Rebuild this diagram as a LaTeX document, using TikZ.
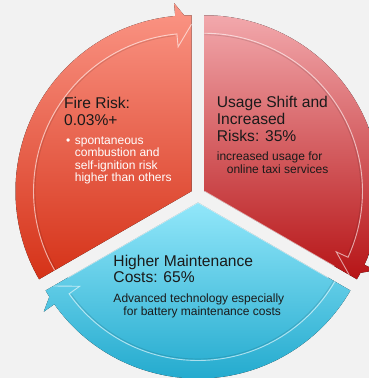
\documentclass[tikz,border=0pt]{standalone}
\usepackage{fontspec}
\setmainfont{Liberation Sans}
\definecolor{bg}{RGB}{242,242,242}
\definecolor{firetop}{RGB}{251,150,134}
\definecolor{firebot}{RGB}{213,50,24}
\definecolor{usagetop}{RGB}{242,168,172}
\definecolor{usagebot}{RGB}{182,20,22}
\definecolor{costtop}{RGB}{146,231,250}
\definecolor{costbot}{RGB}{20,162,200}
\definecolor{ink}{RGB}{26,26,26}
\tikzstyle{title} = [anchor=base west, inner sep=0pt, align=left, text=ink, font=\fontsize{15.6}{16.7}\selectfont]
\tikzstyle{body} = [anchor=base west, inner sep=0pt, align=left, text=ink, font=\fontsize{12}{12.5}\selectfont]
\tikzstyle{rim} = [draw=white, draw opacity=0.6, line width=0.9pt]
\tikzstyle{shadow} = [draw=black, draw opacity=0.12, line width=0.8pt]

\begin{document}
\begin{tikzpicture}[x=1pt, y=1pt]
  \path[use as bounding box, fill=bg] (-198,-183) rectangle (171,195);
  \clip (-198,-183) rectangle (171,195);

  % left segment, arrow points up
  \begin{scope}[shift={(150:7.5)}]
    \fill[top color=firetop, bottom color=firebot]
      (0,0) -- (90:176) arc (90:210:176) -- cycle
      (95.3:176) arc (95.3:210:176) -- (210:158) arc (210:95.3:158)
      -- (95.3:145) -- (90:167) -- (95.3:189) -- cycle;
    \draw[shadow] (210:156.5) arc (210:96:156.5);
    \draw[rim] (210:158) arc (210:95.3:158) -- (95.3:145) -- (90:167);
  \end{scope}

  % right segment, arrow points down
  \begin{scope}[shift={(30:7.5)}]
    \fill[top color=usagetop, bottom color=usagebot]
      (0,0) -- (-30:176) arc (-30:90:176) -- cycle
      (-24.7:176) arc (-24.7:90:176) -- (90:158) arc (90:-24.7:158)
      -- (-24.7:145) -- (-30:167) -- (-24.7:189) -- cycle;
    \draw[rim] (0,0) -- (-30:150);
    \draw[shadow] (90:156.5) arc (90:-24:156.5);
    \draw[rim] (90:158) arc (90:-24.7:158) -- (-24.7:145) -- (-30:167);
  \end{scope}

  % bottom segment, arrow points left
  \begin{scope}[shift={(270:7.5)}]
    \fill[top color=costtop, bottom color=costbot]
      (0,0) -- (210:176) arc (210:330:176) -- cycle
      (215.3:176) arc (215.3:330:176) -- (330:158) arc (330:215.3:158)
      -- (215.3:145) -- (210:167) -- (215.3:189) -- cycle;
    \draw[rim] (210:150) -- (0,0) -- (330:150);
    \draw[shadow] (330:156.5) arc (330:216:156.5);
    \draw[rim] (330:158) arc (330:215.3:158) -- (215.3:145) -- (210:167);
  \end{scope}

  % base of a node is its last line
  \node (fire)[title] at (-134,70) {Fire Risk:\\0.03\%+};
  \node (firetext)[body, text=white] at (-123.3,13.3)
    {\llap{\textbullet\hspace{4.5pt}}spontaneous\\combustion and\\self-ignition risk\\higher than others};
  \node (usage)[title] at (18.7,53.8) {Usage Shift and\\Increased\\Risks: 35\%};
  \node (usagetext)[body] at (18.7,21.7) {increased usage for\\\hspace*{10pt}online taxi services};
  \node (cost)[title] at (-84.7,-87.7) {Higher Maintenance\\Costs: 65\%};
  \node (costtext)[body] at (-84.7,-120) {Advanced technology especially\\\hspace*{10pt}for battery maintenance costs};
\end{tikzpicture}
\end{document}
